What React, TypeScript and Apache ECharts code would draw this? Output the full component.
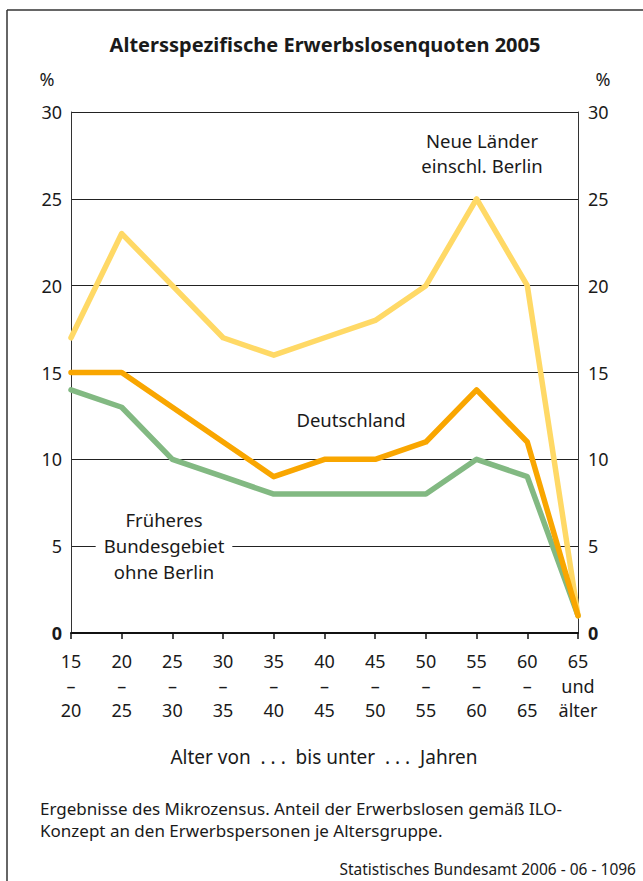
import React, { useEffect, useRef } from "react";
import * as echarts from "echarts";

const categories = ["15\n–\n20", "20\n–\n25", "25\n–\n30", "30\n–\n35", "35\n–\n40", "40\n–\n45", "45\n–\n50", "50\n–\n55", "55\n–\n60", "60\n–\n65", "65\nund\nälter"];
const neueLaender = [17, 23, 20, 17, 16, 17, 18, 20, 25, 20, 1];
const frueheresBundesgebiet = [14, 13, 10, 9, 8, 8, 8, 8, 10, 9, 1];
const deutschland = [15, 15, 13, 11, 9, 10, 10, 11, 14, 11, 1];
const yTicks = [0, 5, 10, 15, 20, 25, 30];

const FONT = "'Noto Sans', 'Open Sans', sans-serif";
const TXT = "#1a1a1a";

export default function App() {
  const ref = useRef<HTMLDivElement>(null);
  useEffect(() => {
    if (!ref.current) return;
    const chart = echarts.init(ref.current, undefined, { renderer: "svg" });
    const yAxisBase = (pos: "left" | "right") => ({
      type: "value" as const,
      position: pos,
      min: yTicks[0],
      max: yTicks[yTicks.length - 1],
      interval: 5,
      axisLine: { show: true, lineStyle: { color: "#333", width: 1 } },
      axisTick: { show: false },
      splitLine: { show: pos === "left", lineStyle: { color: "#222", width: 1 } },
      axisLabel: {
        margin: pos === "left" ? 9 : 10,
        fontFamily: FONT,
        fontSize: 18,
        color: TXT,
        formatter: (v: number) => (v === 0 ? "{b|0}" : String(v)),
        rich: { b: { fontWeight: "bold", fontFamily: FONT, fontSize: 18, color: TXT } },
      },
    });
    const lineSeries = (name: string, data: number[], color: string, z: number) => ({
      name,
      type: "line" as const,
      data,
      symbol: "none",
      z,
      lineStyle: { color, width: 5.5, cap: "round" as const, join: "round" as const },
    });
    chart.setOption({
      animation: false,
      grid: { left: 71, right: 65, top: 112, bottom: 248, containLabel: false },
      xAxis: {
        type: "category",
        data: categories,
        boundaryGap: false,
        axisLine: { show: true, lineStyle: { color: "#111", width: 2 } },
        axisTick: { show: true, length: 6, inside: false, lineStyle: { color: "#111", width: 1.5 } },
        axisLabel: { margin: 16, fontFamily: FONT, fontSize: 18, color: TXT, lineHeight: 24.5, interval: 0 },
        splitLine: { show: false },
      },
      yAxis: [yAxisBase("left"), yAxisBase("right")],
      series: [
        lineSeries("Früheres Bundesgebiet ohne Berlin", frueheresBundesgebiet, "#82b982", 3),
        lineSeries("Neue Länder einschl. Berlin", neueLaender, "#ffd966", 4),
        lineSeries("Deutschland", deutschland, "#f9a600", 5),
      ],
      graphic: [
        { type: "line", z: 100, shape: { x1: 7, y1: 10, x2: 643, y2: 10 }, style: { stroke: "#333", lineWidth: 1.5 } },
        { type: "line", z: 100, shape: { x1: 7, y1: 10, x2: 7, y2: 881 }, style: { stroke: "#333", lineWidth: 1.5 } },
        {
          type: "text", z: 100, x: 325, y: 44,
          style: { text: "Altersspezifische Erwerbslosenquoten 2005", fontFamily: FONT, fontSize: 20, fontWeight: "bold", fill: TXT, align: "center", verticalAlign: "middle" },
        },
        { type: "text", z: 100, x: 47, y: 79, style: { text: "%", fontFamily: FONT, fontSize: 18, fill: TXT, align: "center", verticalAlign: "middle" } },
        { type: "text", z: 100, x: 603, y: 79, style: { text: "%", fontFamily: FONT, fontSize: 18, fill: TXT, align: "center", verticalAlign: "middle" } },
        {
          type: "text", z: 100, x: 482, y: 153,
          style: { text: "Neue Länder\neinschl. Berlin", fontFamily: FONT, fontSize: 18.5, lineHeight: 25, fill: TXT, align: "center", verticalAlign: "middle" },
        },
        {
          type: "text", z: 100, x: 351, y: 419,
          style: { text: "Deutschland", fontFamily: FONT, fontSize: 18.5, fill: TXT, align: "center", verticalAlign: "middle" },
        },
        {
          type: "text", z: 100, x: 164, y: 545,
          style: { text: "Früheres\nBundesgebiet\nohne Berlin", fontFamily: FONT, fontSize: 18.5, lineHeight: 26, fill: TXT, align: "center", verticalAlign: "middle", backgroundColor: "#fff", padding: [0, 8, 0, 8] },
        },
        {
          type: "text", z: 100, x: 324, y: 757,
          style: { text: "Alter von  . . .  bis unter  . . .  Jahren", fontFamily: FONT, fontSize: 19, fill: TXT, align: "center", verticalAlign: "middle" },
        },
        {
          type: "text", z: 100, x: 40, y: 819,
          style: { text: "Ergebnisse des Mikrozensus. Anteil der Erwerbslosen gemäß ILO-\nKonzept an den Erwerbspersonen je Altersgruppe.", fontFamily: FONT, fontSize: 17, lineHeight: 22, fill: TXT, align: "left", verticalAlign: "middle" },
        },
        {
          type: "text", z: 100, x: 636, y: 869,
          style: { text: "Statistisches Bundesamt 2006 - 06 - 1096", fontFamily: FONT, fontSize: 15.5, fill: TXT, align: "right", verticalAlign: "middle" },
        },
      ],
    });
    return () => chart.dispose();
  }, []);
  return (
    <div style={{ position: "absolute", left: 0, top: 0, width: 643, height: 881, background: "#fff" }}>
      <div ref={ref} style={{ width: 643, height: 881 }} />
    </div>
  );
}
